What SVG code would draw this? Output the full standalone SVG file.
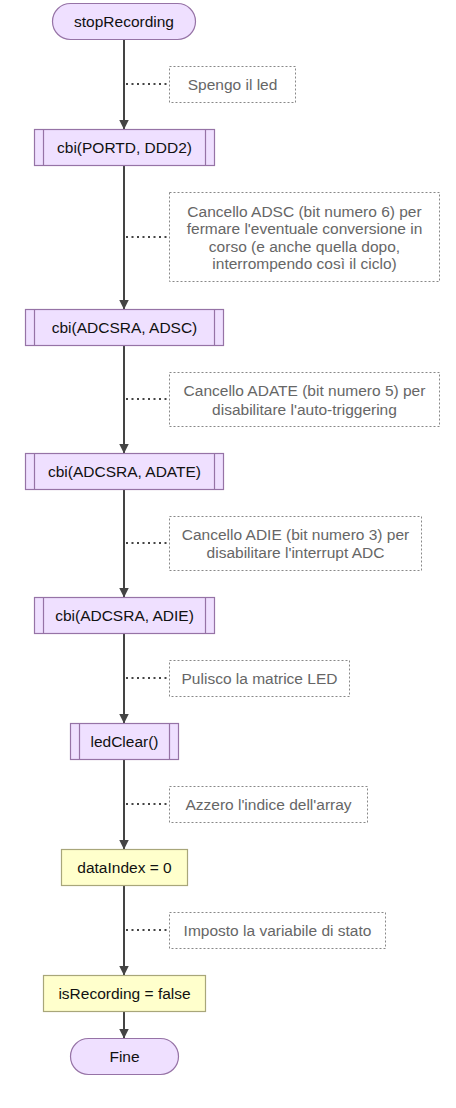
<svg xmlns="http://www.w3.org/2000/svg" width="456" height="1108" viewBox="0 0 456 1108">
<style>
.bg{fill:#ffffff}
.proc{fill:#efe0ff;stroke:#9673a6;stroke-width:1.2}
.term{fill:#efe0ff;stroke:#9673a6;stroke-width:1.2}
.asg{fill:#ffffcc;stroke:#a8a67a;stroke-width:1.2}
.sub{stroke:#9673a6;stroke-width:1.2}
.cmt{fill:#ffffff;stroke:#888888;stroke-width:1;stroke-dasharray:2,2}
.t{font-family:"Liberation Sans",Arial,sans-serif;font-size:15.5px;fill:#111111;text-anchor:middle}
.c{font-family:"Liberation Sans",Arial,sans-serif;font-size:15.5px;fill:#666666;text-anchor:middle}
.flow{stroke:#444444;stroke-width:2;fill:none}
.dot{stroke:#444444;stroke-width:2;stroke-dasharray:2,3.5;fill:none}
</style>
<defs>
<marker id="arr" markerUnits="userSpaceOnUse" markerWidth="12" markerHeight="12" refX="10" refY="5" orient="auto">
<path d="M0,0 L10,5 L0,10 Z" fill="#444444"/>
</marker>
</defs>
<rect class="bg" x="0" y="0" width="456" height="1108"/>
<g id="connectors">
<line class="flow" x1="124" y1="39.5" x2="124" y2="129.5" marker-end="url(#arr)"/>
<line class="flow" x1="124" y1="165.5" x2="124" y2="309.5" marker-end="url(#arr)"/>
<line class="flow" x1="124" y1="345.5" x2="124" y2="453.5" marker-end="url(#arr)"/>
<line class="flow" x1="124" y1="489.5" x2="124" y2="597.5" marker-end="url(#arr)"/>
<line class="flow" x1="124" y1="633.5" x2="124" y2="723.5" marker-end="url(#arr)"/>
<line class="flow" x1="124" y1="759.5" x2="124" y2="849.5" marker-end="url(#arr)"/>
<line class="flow" x1="124" y1="885.5" x2="124" y2="975.5" marker-end="url(#arr)"/>
<line class="flow" x1="124" y1="1011.5" x2="124" y2="1038.5" marker-end="url(#arr)"/>
<line class="dot" x1="126" y1="84" x2="169" y2="84"/>
<line class="dot" x1="126" y1="237" x2="169" y2="237"/>
<line class="dot" x1="126" y1="399" x2="169" y2="399"/>
<line class="dot" x1="126" y1="543" x2="169" y2="543"/>
<line class="dot" x1="126" y1="678" x2="169" y2="678"/>
<line class="dot" x1="126" y1="804" x2="169" y2="804"/>
<line class="dot" x1="126" y1="930" x2="169" y2="930"/>
</g>
<g id="n-start">
<rect class="term" x="52.5" y="3.5" width="143" height="36" rx="18"/>
<text class="t" x="124" y="26.5">stopRecording</text>
</g>
<g id="c-1">
<rect class="cmt" x="169.5" y="66.5" width="126" height="36"/>
<text class="c" x="232.5" y="89.5">Spengo il led</text>
</g>
<g id="n-portd">
<rect class="proc" x="34.5" y="129.5" width="180" height="36"/>
<line class="sub" x1="43.5" y1="129.5" x2="43.5" y2="165.5"/>
<line class="sub" x1="205.5" y1="129.5" x2="205.5" y2="165.5"/>
<text class="t" x="124.5" y="152.5">cbi(PORTD, DDD2)</text>
</g>
<g id="c-2">
<rect class="cmt" x="169.5" y="192.5" width="270" height="89"/>
<text class="c" x="304.5" y="217">Cancello ADSC (bit numero 6) per</text>
<text class="c" x="304.5" y="234">fermare l'eventuale conversione in</text>
<text class="c" x="304.5" y="251.5">corso (e anche quella dopo,</text>
<text class="c" x="304.5" y="268.5">interrompendo così il ciclo)</text>
</g>
<g id="n-adsc">
<rect class="proc" x="25.5" y="309.5" width="198" height="36"/>
<line class="sub" x1="34.5" y1="309.5" x2="34.5" y2="345.5"/>
<line class="sub" x1="214.5" y1="309.5" x2="214.5" y2="345.5"/>
<text class="t" x="124.5" y="332.5">cbi(ADCSRA, ADSC)</text>
</g>
<g id="c-3">
<rect class="cmt" x="169.5" y="372.5" width="270" height="54"/>
<text class="c" x="304.5" y="396">Cancello ADATE (bit numero 5) per</text>
<text class="c" x="304.5" y="414.5">disabilitare l'auto-triggering</text>
</g>
<g id="n-adate">
<rect class="proc" x="25.5" y="453.5" width="198" height="36"/>
<line class="sub" x1="34.5" y1="453.5" x2="34.5" y2="489.5"/>
<line class="sub" x1="214.5" y1="453.5" x2="214.5" y2="489.5"/>
<text class="t" x="124.5" y="476.5">cbi(ADCSRA, ADATE)</text>
</g>
<g id="c-4">
<rect class="cmt" x="169.5" y="516.5" width="252" height="54"/>
<text class="c" x="295.5" y="539.5">Cancello ADIE (bit numero 3) per</text>
<text class="c" x="295.5" y="558">disabilitare l'interrupt ADC</text>
</g>
<g id="n-adie">
<rect class="proc" x="34.5" y="597.5" width="180" height="36"/>
<line class="sub" x1="43.5" y1="597.5" x2="43.5" y2="633.5"/>
<line class="sub" x1="205.5" y1="597.5" x2="205.5" y2="633.5"/>
<text class="t" x="124.5" y="620.5">cbi(ADCSRA, ADIE)</text>
</g>
<g id="c-5">
<rect class="cmt" x="169.5" y="660.5" width="180" height="36"/>
<text class="c" x="259.5" y="683.5">Pulisco la matrice LED</text>
</g>
<g id="n-ledclear">
<rect class="proc" x="70.5" y="723.5" width="108" height="36"/>
<line class="sub" x1="79.5" y1="723.5" x2="79.5" y2="759.5"/>
<line class="sub" x1="169.5" y1="723.5" x2="169.5" y2="759.5"/>
<text class="t" x="124.5" y="746.5">ledClear()</text>
</g>
<g id="c-6">
<rect class="cmt" x="169.5" y="786.5" width="198" height="36"/>
<text class="c" x="268.5" y="809.5">Azzero l'indice dell'array</text>
</g>
<g id="n-dataindex">
<rect class="asg" x="61.5" y="849.5" width="126" height="36"/>
<text class="t" x="124.5" y="872.5">dataIndex = 0</text>
</g>
<g id="c-7">
<rect class="cmt" x="169.5" y="912.5" width="216" height="36"/>
<text class="c" x="277.5" y="935.5">Imposto la variabile di stato</text>
</g>
<g id="n-isrecording">
<rect class="asg" x="43.5" y="975.5" width="162" height="36"/>
<text class="t" x="124.5" y="998.5">isRecording = false</text>
</g>
<g id="n-end">
<rect class="term" x="70.5" y="1038.5" width="108" height="36" rx="18"/>
<text class="t" x="124.5" y="1061.5">Fine</text>
</g>
</svg>
